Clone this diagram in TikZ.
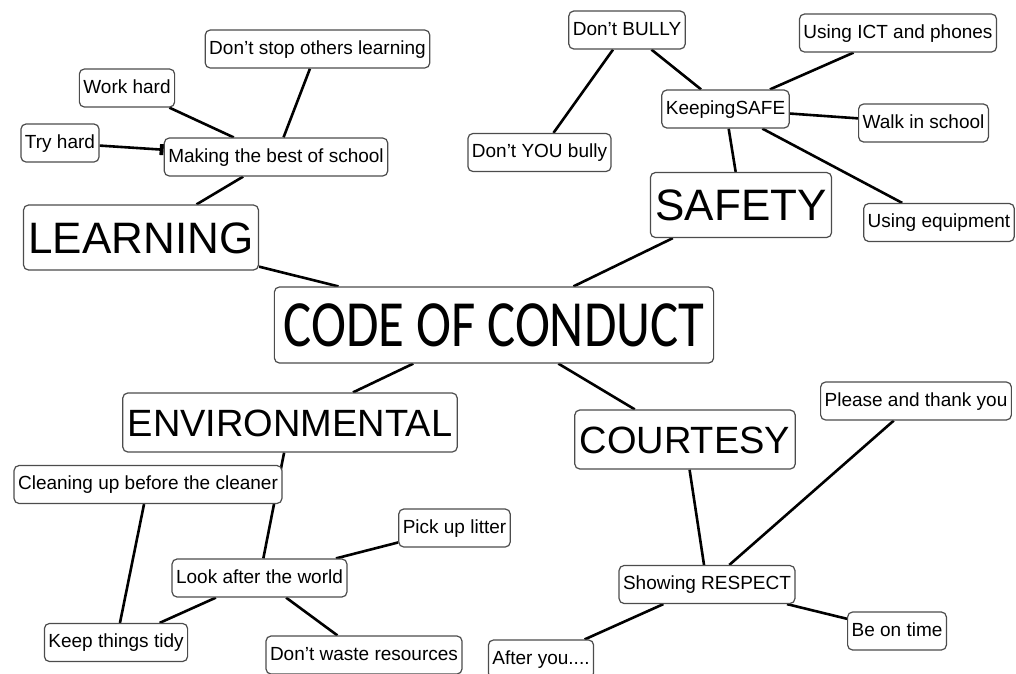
\documentclass[tikz,border=0pt]{standalone}
\usepackage{fontspec}
\setmainfont{Liberation Sans}
\newfontfamily\comicfont{Carlito}
\usepackage{tikz}
\usetikzlibrary{positioning,backgrounds}
\usetikzlibrary{arrows.meta}

\begin{document}
\begin{tikzpicture}[
  x = 1pt, y = -1pt,
  idea/.style = {
    draw = black!70,
    line width = 1.2pt,
    rounded corners = 5pt,
    fill = white,
    font = \fontsize{19}{22}\selectfont,
    inner xsep = 4pt,
    inner ysep = 0pt,
    text height = 14pt,
    text depth = 4pt,
    minimum height = 38pt,
  },
  topic/.style = {
    idea,
    font = \fontsize{44}{50}\selectfont,
    inner xsep = 5pt,
    text height = 31.5pt,
    text depth = 0pt,
    minimum height = 65pt,
  },
  subtopic/.style = {
    topic,
    font = \fontsize{38}{44}\selectfont,
    text height = 27pt,
    minimum height = 59pt,
  },
  hub/.style = {
    idea,
    font = \comicfont\fontsize{66}{72}\selectfont,
    inner xsep = 9pt,
    text height = 42.5pt,
    text depth = 0pt,
    minimum height = 76pt,
  },
  link/.style = {-, line width = 2.6pt},
  on grid,
]

  \useasboundingbox (0,0) rectangle (1016,673);

  \node[hub] (code) at (494,325) {\scalebox{0.8}[1]{CODE OF CONDUCT}};

  % learning
  \node[topic] (learning) [above left=87.5pt and 353pt of code] {LEARNING};
  \node[idea] (making) [above right=80.5pt and 135pt of learning] {Making the best of school};
  \node[idea] (workhard) [above left=69pt and 149pt of making] {Work hard};
  \node[idea] (tryhard) [above left=14pt and 216pt of making] {Try hard};
  \node[idea] (nostop) [above right=108pt and 41.5pt of making] {Don't stop others learning};

  % safety
  \node[topic] (safety) [above right=120pt and 247pt of code] {SAFETY};
  \node[idea] (keeping) [above left=96pt and 15.5pt of safety] {KeepingSAFE};
  \node[idea] (bully) [above left=79pt and 98.5pt of keeping] {Don't BULLY};
  \node[idea] (youbully) [below left=122.5pt and 87.5pt of bully] {Don't YOU bully};
  \node[idea] (ict) [above right=76pt and 172.5pt of keeping] {Using ICT and phones};
  \node[idea] (walk) [below right=14pt and 198pt of keeping] {Walk in school};
  \node[idea] (equip) [below right=113.5pt and 213.5pt of keeping] {Using equipment};

  % environmental
  \node[subtopic] (env) [below left=97.5pt and 204pt of code] {ENVIRONMENTAL};
  \node[idea] (cleaning) [below left=62pt and 142pt of env] {Cleaning up before the cleaner};
  \node[idea] (world) [below left=155.5pt and 30.5pt of env] {Look after the world};
  \node[idea] (litter) [above right=50pt and 195pt of world] {Pick up litter};
  \node[idea] (tidy) [below left=64.5pt and 143.5pt of world] {Keep things tidy};
  \node[idea] (waste) [below right=77pt and 104.5pt of world] {Don't waste resources};

  % courtesy
  \node[subtopic] (courtesy) [below right=114.5pt and 191pt of code] {COURTESY};
  \node[idea] (respect) [below right=145pt and 22pt of courtesy] {Showing RESPECT};
  \node[idea] (please) [above right=183.5pt and 209pt of respect] {Please and thank you};
  \node[idea] (ontime) [below right=46.5pt and 190pt of respect] {Be on time};
  \node[idea] (after) [below left=74.5pt and 166pt of respect] {After you....};

  \begin{scope}[on background layer]
    \path[link] (learning) edge (code);
    \path[link] (making) edge (learning);
    \path[link] (workhard) edge (making);
    \path[link] (nostop) edge (making);
    \path[link] (tryhard) edge[-{Rectangle[length=4pt,width=11pt]}] (making);

    \path[link] (safety) edge (code);
    \path[link] (keeping) edge (safety);
    \path[link] (bully) edge (keeping);
    \path[link] (bully) edge (youbully);
    \path[link] (ict) edge (keeping);
    \path[link] (walk) edge (keeping);
    \path[link] (equip) edge (keeping);

    \path[link] (env) edge (code);
    \path[link] (env) edge (world);
    \path[link] (cleaning) edge (tidy);
    \path[link] (world) edge (litter);
    \path[link] (world) edge (tidy);
    \path[link] (world) edge (waste);

    \path[link] (courtesy) edge (code);
    \path[link] (respect) edge (courtesy);
    \path[link] (please) edge (respect);
    \path[link] (respect) edge (ontime);
    \path[link] (respect) edge (after);
  \end{scope}
\end{tikzpicture}
\end{document}
